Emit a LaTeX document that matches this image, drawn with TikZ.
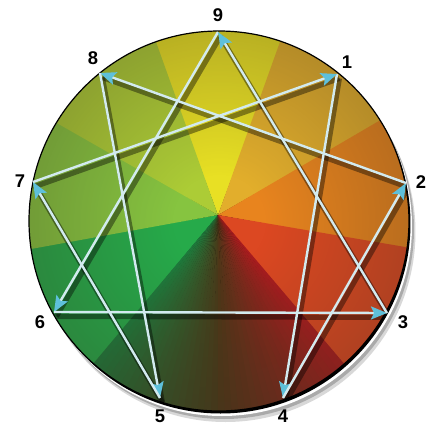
\documentclass[tikz,border=0pt]{standalone}
\usepackage{fontspec}
\setsansfont{Liberation Sans}
\usepackage{tikz}
\usetikzlibrary{arrows.meta,fadings}
\definecolor{typenine}{HTML}{E8E024}
\definecolor{typeone}{HTML}{E2AE2C}
\definecolor{typetwo}{HTML}{E8841E}
\definecolor{typethree}{HTML}{DC4822}
\definecolor{typefour}{HTML}{A81C1E}
\definecolor{typefive}{HTML}{1E7A3C}
\definecolor{typesix}{HTML}{26AA4A}
\definecolor{typeseven}{HTML}{86C440}
\definecolor{typeeight}{HTML}{ACCC36}
\definecolor{wheelbase}{HTML}{4A3818}
\definecolor{rimdark}{HTML}{3A3020}
\definecolor{linecyan}{HTML}{D2EAEF}
\definecolor{tipcyan}{HTML}{5EC0DA}

% darker towards the rim of the wheel
\pgfdeclareradialshading{rimshade}{\pgfpointorigin}{%
  color(0bp)=(black); color(6bp)=(black); color(50bp)=(white)}
\pgfdeclarefading{rimfade}{\pgfuseshading{rimshade}}

\begin{document}
\begin{tikzpicture}[
  x=0.5pt, y=0.5pt,
  num/.style={font=\sffamily\bfseries\fontsize{9.2}{10}\selectfont,
              text=black, inner sep=0pt},
  conn/.style={draw=linecyan, line width=1.2pt,
               -{Stealth[length=8pt, width=6.5pt, inset=1.5pt, color=tipcyan]}},
  connshadow/.style={draw=black, line width=2.6pt, opacity=0.4},
]
\useasboundingbox (-219,-204) rectangle (211,221);

% ── rim with its drop shadow ────────────────────────────────────────────────
\fill[black!30, opacity=0.5] (6.5,-11) circle (190);
\fill[black!45, opacity=0.6] (5,-8) circle (190);
\fill[white] (3,-5) circle (190);
\fill[black] (1.5,-2.5) circle (190);

% ── colour wheel: one wedge per type ────────────────────────────────────────
\begin{scope}
  \clip (0,0) circle (190);
  \coordinate (hub) at (-1,6);
  \foreach \mid/\col in {90/typenine, 50/typeone, 10/typetwo, -30/typethree,
                         -150/typesix, 170/typeseven, 130/typeeight}
    \fill[\col] (hub) -- ++(\mid-20.3:280)
      arc[start angle=\mid-20.3, end angle=\mid+20.3, radius=280] -- cycle;
  % types 5 and 4 run into each other at the bottom
  \foreach \i in {0,...,39} {
    \ifnum\i<20
      \pgfmathtruncatemacro\pct{100-5*\i}
      \colorlet{conic}{typefive!\pct!wheelbase}
    \else
      \pgfmathtruncatemacro\pct{5*(\i-19)}
      \colorlet{conic}{typefour!\pct!wheelbase}
    \fi
    \fill[conic] (hub) -- ++(-130+2*\i:280)
      arc[start angle=-130+2*\i, end angle=-127.7+2*\i, radius=280] -- cycle;
  }
  \fill[rimdark, fill opacity=0.62, path fading=rimfade] (0,0) circle (190);
\end{scope}
\draw[black, line width=0.6pt] (0,0) circle (190);

% ── the nine points ─────────────────────────────────────────────────────────
\coordinate (p9) at (-1,189);
\coordinate (p1) at (118,147);
\coordinate (p2) at (187,38);
\coordinate (p3) at (168,-92);
\coordinate (p4) at (64,-177);
\coordinate (p5) at (-59,-177);
\coordinate (p6) at (-165,-91);
\coordinate (p7) at (-186,39);
\coordinate (p8) at (-119,148);

% line shadows
\begin{scope}
  \clip (0,0) circle (190);
  \foreach \a/\b in {1/4,4/2,2/8,8/5,5/7,7/1,9/6,6/3,3/9}
    \draw[connshadow, transform canvas={shift={(1.2pt,-2.2pt)}}] (p\a) -- (p\b);
\end{scope}

% hexad and triangle
\foreach \a/\b in {1/4,4/2,2/8,8/5,5/7,7/1,9/6,6/3,3/9}
  \draw[conn] (p\a) -- (p\b);

\node[num] (l9) at (-1,206)    {9};
\node[num] (l1) at (128,159)   {1};
\node[num] (l2) at (202,39)    {2};
\node[num] (l3) at (184,-101)  {3};
\node[num] (l4) at (64,-195)   {4};
\node[num] (l5) at (-59,-195)  {5};
\node[num] (l6) at (-179,-101) {6};
\node[num] (l7) at (-199,40)   {7};
\node[num] (l8) at (-126,163)  {8};
\end{tikzpicture}
\end{document}
